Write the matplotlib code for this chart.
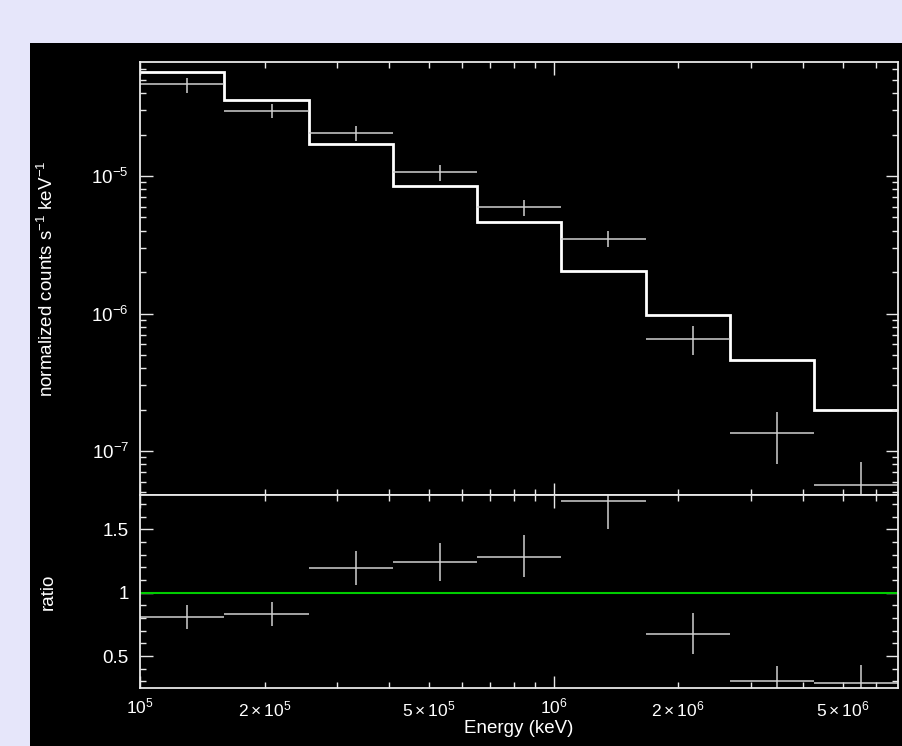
import matplotlib
matplotlib.use("Agg")
import matplotlib.pyplot as plt
from matplotlib.patches import Rectangle
from matplotlib.ticker import FixedLocator, FuncFormatter, NullFormatter
import numpy as np

plt.rcParams["font.family"] = ["Liberation Sans", "DejaVu Sans"]
plt.rcParams["mathtext.fontset"] = "custom"
plt.rcParams["mathtext.rm"] = "Liberation Sans"
plt.rcParams["mathtext.it"] = "Liberation Sans"

# energy bins (keV)
edges = [1.0e5, 1.60e5, 2.56e5, 4.08e5, 6.52e5, 1.04e6, 1.67e6, 2.67e6, 4.27e6, 6.8e6]
centers = [1.30e5, 2.08e5, 3.32e5, 5.30e5, 8.46e5, 1.355e6, 2.17e6, 3.47e6, 5.53e6]

# normalized counts s^-1 keV^-1
rate = [4.64e-5, 2.99e-5, 2.06e-5, 1.07e-5, 5.96e-6, 3.50e-6, 6.53e-7, 1.35e-7, 5.66e-8]
rate_up = [5.13e-5, 3.34e-5, 2.31e-5, 1.20e-5, 6.73e-6, 3.96e-6, 8.1e-7, 1.92e-7, 8.36e-8]
rate_dn = [3.99e-5, 2.63e-5, 1.81e-5, 9.25e-6, 5.12e-6, 3.03e-6, 4.99e-7, 8.0e-8, 2.5e-8]
model = [5.68e-5, 3.57e-5, 1.72e-5, 8.5e-6, 4.6e-6, 2.03e-6, 9.7e-7, 4.59e-7, 1.99e-7]

# data / model ratio
ratio = [0.81, 0.834, 1.197, 1.242, 1.282, 1.726, 0.677, 0.306, 0.29]
ratio_up = [0.90, 0.93, 1.33, 1.394, 1.453, 1.95, 0.838, 0.42, 0.43]
ratio_dn = [0.71, 0.74, 1.06, 1.09, 1.121, 1.50, 0.517, 0.19, 0.15]

fg = "#e8e8e8"
dcol = "#d0d0d0"

fig = plt.figure(figsize=(9.03, 7.46), dpi=100, facecolor="#e6e6fa")
bg = Rectangle((30 / 903, 0), 1 - 30 / 903, 1 - 43 / 746,
               transform=fig.transFigure, facecolor="black", edgecolor="none")
bg.set_zorder(-10)
fig.add_artist(bg)

L, W = 140 / 903, 758 / 903
ax1 = fig.add_axes([L, 1 - 495 / 746, W, 433 / 746])
ax2 = fig.add_axes([L, 1 - 688 / 746, W, 193 / 746], sharex=ax1)

e = np.array(edges)
c = np.array(centers)
xerr = [c - e[:-1], e[1:] - c]

r = np.array(rate)
ax1.errorbar(c, r, xerr=xerr, yerr=[r - np.array(rate_dn), np.array(rate_up) - r],
             fmt="none", ecolor=dcol, elinewidth=1.1, capsize=0)
ax1.stairs(model, edges, baseline=None, color="white", linewidth=2)

q = np.array(ratio)
ax2.errorbar(c, q, xerr=xerr, yerr=[q - np.array(ratio_dn), np.array(ratio_up) - q],
             fmt="none", ecolor=dcol, elinewidth=1.1, capsize=0)
ax2.axhline(1.0, color="#00cc00", linewidth=1.5)

for ax in (ax1, ax2):
    ax.set_facecolor("black")
    for s in ax.spines.values():
        s.set_color(fg)
        s.set_linewidth(1.3)
    ax.set_xscale("log")
    ax.set_xlim(1e5, 6.8e6)
    ax.tick_params(which="both", direction="in", top=True, right=True,
                   color=fg, labelcolor="white", labelsize=12.5, width=1, pad=8)
    ax.tick_params(axis="x", pad=6)
    ax.tick_params(axis="y", labelsize=13.5)
    ax.tick_params(which="major", length=9)
    ax.tick_params(which="minor", length=4.5)
    ax.xaxis.set_major_locator(FixedLocator([1e5, 1e6]))
    ax.xaxis.set_minor_locator(FixedLocator([k * d for d in (1e5, 1e6) for k in range(2, 10)]))

ax1.set_yscale("log")
ax1.set_ylim(4.79e-8, 6.75e-5)
ax1.yaxis.set_major_locator(FixedLocator([1e-7, 1e-6, 1e-5]))
ax1.yaxis.set_minor_locator(FixedLocator([k * d for d in (1e-8, 1e-7, 1e-6, 1e-5) for k in range(2, 10)]))
ax1.yaxis.set_major_formatter(FuncFormatter(lambda v, p: r"$10^{%d}$" % round(np.log10(v))))
ax1.yaxis.set_minor_formatter(NullFormatter())
ax1.tick_params(labelbottom=False, which="both")
ax1.set_ylabel(r"normalized counts s$^{-1}$ keV$^{-1}$", color="white", fontsize=13.5)
ax1.yaxis.set_label_coords(-0.11, 0.5)


def xfmt(v, p):
    ex = int(np.floor(np.log10(v) + 1e-9))
    m = round(v / 10 ** ex)
    if m == 1:
        return r"$10^{%d}$" % ex
    if m in (2, 5):
        return r"$%d\times10^{%d}$" % (m, ex)
    return ""


ax2.xaxis.set_major_formatter(FuncFormatter(xfmt))
ax2.xaxis.set_minor_formatter(FuncFormatter(xfmt))
ax2.set_ylim(0.248, 1.77)
ax2.yaxis.set_major_locator(FixedLocator([0.5, 1.0, 1.5]))
ax2.yaxis.set_minor_locator(FixedLocator([0.3, 0.4, 0.6, 0.7, 0.8, 0.9, 1.1, 1.2, 1.3, 1.4, 1.6, 1.7]))
ax2.yaxis.set_major_formatter(FuncFormatter(lambda v, p: "%g" % v))
ax2.set_ylabel("ratio", color="white", fontsize=13.5)
ax2.yaxis.set_label_coords(-0.11, 0.5)
ax2.set_xlabel("Energy (keV)", color="white", fontsize=13.5, labelpad=1)

fig.savefig("out.png", dpi=100, facecolor=fig.get_facecolor())
